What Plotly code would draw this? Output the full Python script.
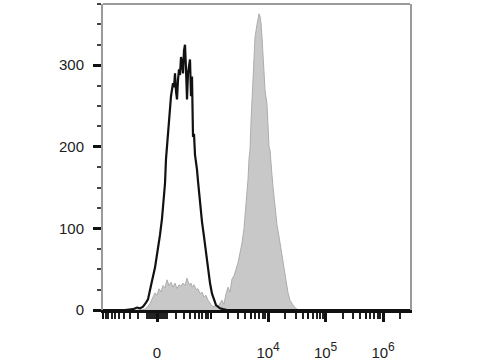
import numpy as np
import plotly.graph_objects as go

# Display channel units: 0 = zero fluorescence, 57.5 channels per decade (logicle-like display)
ctrl_x = [-54, -32, -24, -20, -17, -14, -11, -9, -6, -4, -2, 0, 2, 3, 5, 7, 8, 9, 10, 11, 12, 13,
          14, 15, 16, 17, 18, 19, 20, 21, 22, 23, 24, 25, 26, 27, 28, 29, 30, 31, 32, 33, 34, 35,
          36, 37, 38, 39, 40, 41, 43, 45, 47, 49, 51, 53, 55, 57, 59, 61, 63, 66, 70, 253]
ctrl_y = [0, 0, 1, 3, 2, 4, 9, 13, 30, 40, 52, 68, 82, 92, 112, 140, 155, 185, 200, 222, 237, 246,
          262, 270, 278, 273, 290, 268, 258, 282, 295, 288, 310, 303, 290, 318, 325, 295, 258, 290,
          300, 307, 262, 286, 212, 216, 190, 182, 172, 158, 131, 108, 90, 70, 52, 33, 20, 12, 6, 4,
          2, 1, 0, 0]

stain_x = [-54, -17, -12, -10, -7, -5, -2, 0, 2, 4, 6, 8, 10, 12, 14, 16, 18, 20, 22, 24, 26, 28,
           30, 32, 34, 35, 37, 39, 41, 43, 45, 47, 49, 51, 53, 55, 57, 59, 61, 63, 65, 67, 69, 71,
           73, 75, 77, 79, 81, 83, 85, 87, 88, 90, 91, 92, 93, 94, 95, 96, 97, 98, 100, 101, 102,
           103, 104, 105, 106, 107, 108, 110, 111, 112, 113, 114, 115, 116, 117, 118, 120, 122,
           123, 125, 127, 128, 130, 131, 133, 135, 136, 138, 140, 143, 253]
stain_y = [0, 0, 1, 3, 8, 14, 21, 18, 26, 22, 30, 27, 37, 30, 34, 28, 33, 26, 31, 29, 33, 30,
           39, 31, 33, 28, 31, 25, 26, 20, 22, 16, 18, 12, 9, 5, 4, 6, 4, 9, 12, 7, 20, 28,
           22, 38, 42, 50, 58, 70, 82, 100, 114, 140, 160, 185, 196, 231, 260, 292, 312, 334, 350,
           358, 363, 360, 352, 334, 310, 292, 270, 252, 211, 200, 196, 175, 165, 151, 140, 123,
           104, 90, 82, 64, 52, 45, 28, 21, 12, 7, 6, 3, 1, 0, 0]

x_label_vals = [0, 1e4, 1e5, 1e6]
x_label_text = ["0",
                "10<sup><span style='font-size:12px'>4</span></sup>",
                "10<sup><span style='font-size:12px'>5</span></sup>",
                "10<sup><span style='font-size:12px'>6</span></sup>"]
y_tick_vals = [0, 100, 200, 300]

CH_PER_DECADE = 57.5
W = 117.0


def to_channel(v):
    v = np.asarray(v, dtype=float)
    return CH_PER_DECADE * np.arcsinh(v / (2 * W)) / np.log(10)


# axis tick values (raw fluorescence), transformed to display channels
long_unlabeled = [-1000, 1000, 5000, 5e4, 5e5]
minor_vals = []
for n in [1, 2, 3, 4, 5, 6]:
    for k in range(2, 10):
        v = k * 10 ** n
        if v not in long_unlabeled:
            minor_vals.append(v)
for n in [1, 2]:
    for k in range(1, 10):
        minor_vals.append(-k * 10 ** n)
for k in range(1, 10):
    minor_vals.append(k * 10)
minor_vals += [100]

fig = go.Figure()
fig.add_trace(go.Scatter(
    x=stain_x, y=stain_y, mode="lines", fill="tozeroy",
    fillcolor="#c8c8c8", line=dict(color="#adadad", width=1),
    showlegend=False, hoverinfo="skip"))
fig.add_trace(go.Scatter(
    x=ctrl_x, y=ctrl_y, mode="lines",
    line=dict(color="#111111", width=2.2),
    showlegend=False, hoverinfo="skip"))
# empty trace so the secondary tick axis is drawn
fig.add_trace(go.Scatter(x=[], y=[], xaxis="x2", showlegend=False, hoverinfo="skip"))

fig.update_layout(
    width=480, height=360,
    margin=dict(l=103, r=70, t=4, b=50),
    plot_bgcolor="white", paper_bgcolor="white",
    font=dict(family="Liberation Sans, Arial, sans-serif", color="#222222"),
    shapes=[dict(type="line", xref="paper", yref="paper", x0=0, x1=1, y0=1, y1=1,
                 line=dict(color="#9a9a9a", width=2))],
    xaxis=dict(
        range=[-54, 253], showgrid=False, zeroline=False, automargin=False,
        showline=True, linecolor="#111111", linewidth=2.5,
        tickmode="array", tickvals=list(to_channel(x_label_vals)), ticktext=x_label_text,
        ticks="outside", ticklen=9, tickwidth=2.5, tickcolor="#111111",
        tickfont=dict(size=15, color="#222222"), ticklabelstandoff=18,
        minor=dict(tickmode="array", tickvals=list(to_channel(minor_vals)),
                   ticks="outside", ticklen=6, tickwidth=1.5, tickcolor="#222222"),
    ),
    xaxis2=dict(
        overlaying="x", matches="x", side="bottom", anchor="y",
        range=[-54, 253], showgrid=False, zeroline=False, automargin=False,
        showline=False, showticklabels=False,
        tickmode="array", tickvals=list(to_channel(long_unlabeled)),
        ticks="outside", ticklen=8, tickwidth=2, tickcolor="#111111",
    ),
    yaxis=dict(
        range=[0, 375], showgrid=False, zeroline=False, automargin=False,
        showline=True, linecolor="#9a9a9a", linewidth=2, mirror=True,
        tickmode="array", tickvals=y_tick_vals,
        ticks="outside", ticklen=8, tickwidth=3, tickcolor="#111111",
        tickfont=dict(size=15, color="#222222"), ticklabelstandoff=6,
        minor=dict(dtick=25, ticks="outside", ticklen=4, tickwidth=1.5, tickcolor="#444444"),
    ),
)

fig.write_html("out.html")
